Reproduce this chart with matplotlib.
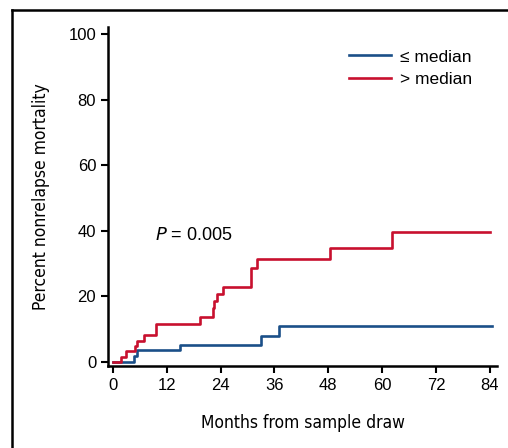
import matplotlib.pyplot as plt
from matplotlib.lines import Line2D

# step data (months, percent)
red_t = [0, 1.9, 2.9, 5.0, 5.4, 6.9, 9.7, 19.4, 22.2, 22.6, 23.3, 24.6, 30.7, 32.0, 48.4, 62.1, 84]
red_y = [0, 1.6, 3.4, 4.9, 6.5, 8.1, 11.5, 13.7, 16.5, 18.6, 20.7, 23.0, 28.8, 31.5, 34.8, 39.5, 39.5]
blue_t = [0, 4.7, 5.4, 14.9, 32.9, 37.1, 84.4]
blue_y = [0, 1.8, 3.7, 5.2, 7.9, 11.1, 11.1]

x_ticks = [0, 12, 24, 36, 48, 60, 72, 84]
y_ticks = [0, 20, 40, 60, 80, 100]
labels = ['\u2264 median', '> median']

BLUE = '#1a4f88'
RED = '#c8102e'

plt.rcParams['font.family'] = ['Liberation Sans', 'DejaVu Sans']

fig = plt.figure(figsize=(5.08, 4.48), dpi=100)
ax = fig.add_axes([108 / 508, 82 / 448, 389 / 508, 339 / 448])

ax.step(blue_t, blue_y, where='post', color=BLUE, lw=1.9, label=labels[0])
ax.step(red_t, red_y, where='post', color=RED, lw=1.9, label=labels[1])

ax.set_xlim(-1.1, 85.6)
ax.set_ylim(-1.2, 102.1)
ax.set_xticks(x_ticks)
ax.set_yticks(y_ticks)
ax.tick_params(labelsize=12, width=1.5, length=5, direction='out')
for s in ['top', 'right']:
    ax.spines[s].set_visible(False)
for s in ['left', 'bottom']:
    ax.spines[s].set_linewidth(1.8)

# condensed look of the axis titles
cond = dict(fontsize=12.5, family='DejaVu Sans', fontstretch='condensed')
ax.set_xlabel('Months from sample draw', labelpad=15, **cond)
ax.set_ylabel('Percent nonrelapse mortality', labelpad=13, **cond)

ax.text(9.4, 38.7, '$P$ = 0.005', fontsize=13, va='center')

ax.legend(loc='upper right', bbox_to_anchor=(0.975, 0.98), frameon=False,
          fontsize=12.5, handlelength=2.4, handletextpad=0.5, labelspacing=0.4)

# outer frame (left and top edges only visible)
fig.add_artist(Line2D([12 / 508, 12 / 508], [0, 1 - 10 / 448], color='black', lw=1.8))
fig.add_artist(Line2D([12 / 508, 1], [1 - 10 / 448, 1 - 10 / 448], color='black', lw=1.8))

fig.savefig('out.png', dpi=100)
